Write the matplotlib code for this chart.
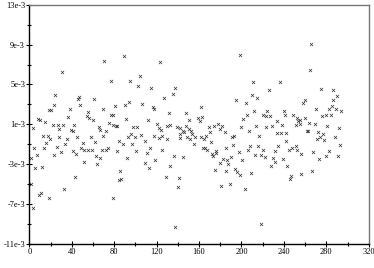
import matplotlib
matplotlib.use("Agg")
import matplotlib.pyplot as plt
import numpy as np

# points (x index, value in units of 1e-3)
xs = [1.3, 1.6, 3.2, 3.8, 4.7, 5.7, 7.3, 7.9, 9.4, 10.1, 11.0, 12.0, 12.8, 14.1, 14.8,
      15.7, 17.3, 18.3, 18.9, 19.5, 20.5, 22.0, 23.0, 23.6, 24.5, 26.1, 26.7, 27.7, 28.3,
      29.9, 30.8, 32.1, 33.0, 34.0, 35.3, 36.8, 38.7, 39.3, 40.9, 40.9, 42.4, 43.4, 44.0,
      44.8, 46.2, 46.5, 47.8, 48.7, 50.9, 51.9, 51.9, 54.1, 55.0, 55.0, 56.6, 58.2, 58.8,
      59.8, 61.3, 62.2, 62.9, 63.8, 65.4, 66.7, 66.7, 68.5, 69.2, 69.8, 70.7, 72.3, 72.3,
      73.9, 75.4, 77.0, 77.0, 78.6, 79.2, 79.2, 81.0, 81.7, 82.7, 82.7,
      84.3, 84.9, 85.8, 86.7, 88.0, 89.0, 90.5, 91.2, 92.1, 93.0, 94.3, 95.2, 96.2, 96.8,
      97.5, 100.0, 100.9, 101.5, 102.5, 104.1, 105.6, 106.3, 108.8, 109.4, 111.0, 111.9,
      113.1, 114.1, 115.0, 116.3, 117.3, 117.6, 118.8, 120.4, 122.0, 122.0, 123.0, 124.5,
      125.1, 125.1, 126.7, 128.9, 129.8, 129.8, 132.0, 132.9, 133.0, 135.2, 136.1, 137.1,
      137.7, 139.3, 140.2, 140.9, 142.4, 142.4, 142.4, 144.6, 144.9, 145.6, 147.7, 147.7,
      148.7, 150.3, 150.9, 151.2, 152.7, 153.4, 155.0, 156.2, 159.1, 161.5, 160.5, 161.4,
      162.8,
      163.8, 164.7, 165.9, 166.9, 167.8, 169.1, 170.1, 171.0, 172.3, 173.2, 174.1, 175.4,
      176.3, 176.3, 177.9, 179.5, 180.1, 181.0, 181.7, 182.6, 184.2, 185.2, 185.7, 186.7,
      187.3, 189.0, 190.7, 190.5, 192.0, 193.0, 194.2, 195.2, 196.1, 197.4, 198.4, 199.0,
      199.9, 200.8, 201.5, 203.1, 204.6, 205.6, 206.2, 206.9, 207.8, 209.3, 210.0, 210.9,
      211.9, 213.1, 214.0, 215.0, 215.6, 216.6, 218.2, 218.7, 220.3, 220.3, 221.9, 223.5,
      223.5, 224.4, 225.7, 226.7, 228.2, 229.1, 229.8, 231.9, 231.9, 233.5, 233.8, 234.5,
      236.1, 237.6, 238.3, 239.2, 240.2, 241.4, 241.7, 242.3, 243.3,
      244.9, 245.8, 247.0, 248.0, 248.9, 251.2, 251.2, 252.1, 252.7, 253.3, 255.2, 255.2,
      255.9, 256.5, 258.3, 259.6, 259.6, 262.1, 262.5, 263.7, 264.7, 265.9, 266.8, 267.8,
      269.1, 270.0, 271.0, 272.2, 273.2, 274.1, 274.8, 276.3, 277.2, 277.9, 279.5, 280.0,
      280.4, 282.6, 282.6, 284.2, 285.1, 286.6, 286.6, 288.0, 288.9, 289.8, 291.1, 292.0,
      292.9, 294.2]
ys = [-2.4, -5.0, -7.4, 0.6, -1.34, -3.4, -2.07, 1.54, -6.1, 1.41, -5.9, -3.25, -0.15, -1.4, 1.24,
      -0.9, -0.15, 2.41, -6.4, -0.47, 2.41, 0.9, 2.9, -2.07, 3.98, -1.24, 0.9, 0.56, -0.25,
      -1.74, 6.28, 0.9, -5.5, -1.0, -0.5, 1.74, 2.54, 0.46, 0.36, -1.67, 0.9, -4.25, -1.97,
      -0.25, 3.5, 3.7, 2.97, -1.34, -0.9, -1.57, -2.8, 1.8, 2.2, -1.57, 1.64, -0.3, -1.57,
      1.4, 3.54, -0.8, -2.14, -3.0, 0.7, 0.4, -2.34, -1.57, -0.15, 2.54, 7.33, 0.36, -1.57,
      -1.4, 1.14, 5.32, 1.97, -6.36, 1.97, 0.9, 2.86, 0.8, 0.8, -1.67,
      -4.58, -0.67, -3.65, -4.48, -1.0, 7.83, 2.97, 1.57, -2.34, -0.22, 3.21, 5.32, 0.03, -1.0,
      0.7, -0.3, -1.67, 0.7, 4.88, 5.82, -0.04, 3.07, -0.67, -2.9, -1.9, 1.47,
      -3.4, -1.34, 4.65, 2.71, 2.57, -0.12, -2.57, 1.04, 0.64, -0.4, 7.25, 0.46,
      -0.2, -1.57, 3.64, -4.25, 0.8, -0.5, 2.14, 0.9, -3.18, 4.05, -2.14, 4.65,
      -9.33, 0.7, -5.25, -4.4, 0.64, 0.0, -0.4, 0.3, -2.24, 0.2, 2.14, 0.8,
      -0.3, 1.47, 0.56, -0.47, 0.3, 0.0, -1.0, -0.22, 1.64, 2.71, 1.35, -0.3,
      1.74,
      -1.4, -0.47, -1.34, -0.14, -1.57, 0.7, 0.2, -0.8, -2.0, -2.14, 0.8, -3.58,
      -1.67, -1.9, 1.07, -2.9, 0.56, -5.18, 0.87, -2.47, 0.2, -1.34, -3.65, -2.57,
      -3.0, -5.0, -0.3, -2.24, -1.07, -0.2, -3.5, 3.41, -3.77, -1.8, -4.08, 7.93,
      0.74, -2.57, 1.54, -5.48, 3.14, 1.9, -1.57, 0.36, -1.14, -3.9, 3.98, 5.22,
      2.37, -2.07, 0.8, 3.64, -1.14, -0.17, -2.07, -8.99, 1.97, -1.57, -2.3, 1.87,
      0.74, 2.37, 4.48, 1.87, -3.15, 0.8, -2.4, -1.67, -2.8, 0.13, 1.31, -1.14,
      5.22, 0.13, 0.9, -2.47, 2.37, 1.9, 0.13, -0.67, -3.15,
      -1.57, -4.51, -4.15, -1.4, 1.94, 0.97, -1.14, -1.57, 1.64, 1.37, 1.47, 1.04,
      -2.0, -4.0, 3.14, 3.47, 1.64, 0.3, 0.35, 1.14, 6.48, 9.06, -3.68, -1.8,
      1.04, 2.57, -0.47, 0.23, -2.47, -0.3, 4.55, 1.8, 0.06, -0.57, 1.9, -2.14,
      0.8, 2.57, -1.67, 1.9, 2.81, 4.42, 3.41, -0.3, 2.57, 3.8, -2.14, 0.64,
      -1.07, 2.37]

xticks = [0, 40, 80, 120, 160, 200, 240, 280, 320]
yticks = [-11, -7, -3, 1, 5, 9, 13]
ylabels = ["-11e-3", "-7e-3", "-3e-3", "1e-3", "5e-3", "9e-3", "13e-3"]

plt.rcParams['font.family'] = ['Liberation Serif', 'DejaVu Serif']

fig = plt.figure(figsize=(3.74, 2.68), dpi=100)
ax = fig.add_axes([0.0783, 0.0896, 0.9077, 0.8929])

ax.scatter(xs, np.array(ys), marker='x', s=5, c='#333333', linewidths=0.5)

ax.set_xlim(0, 320)
ax.set_ylim(-11, 13)
ax.set_xticks(xticks)
ax.set_xticks(range(20, 320, 40), minor=True)
ax.set_yticks(yticks)
ax.set_yticklabels(ylabels)
ax.set_yticks(range(-9, 13, 4), minor=True)
ax.tick_params(which='major', direction='inout', length=4, width=0.8, labelsize=6, pad=1)
ax.tick_params(which='minor', direction='inout', length=2.5, width=0.8)

for side in ['left', 'bottom']:
    ax.spines[side].set_color('black')
    ax.spines[side].set_linewidth(1.0)
for side in ['top', 'right']:
    ax.spines[side].set_color('#777777')
    ax.spines[side].set_linewidth(1.0)

fig.savefig('out.png', dpi=100)
